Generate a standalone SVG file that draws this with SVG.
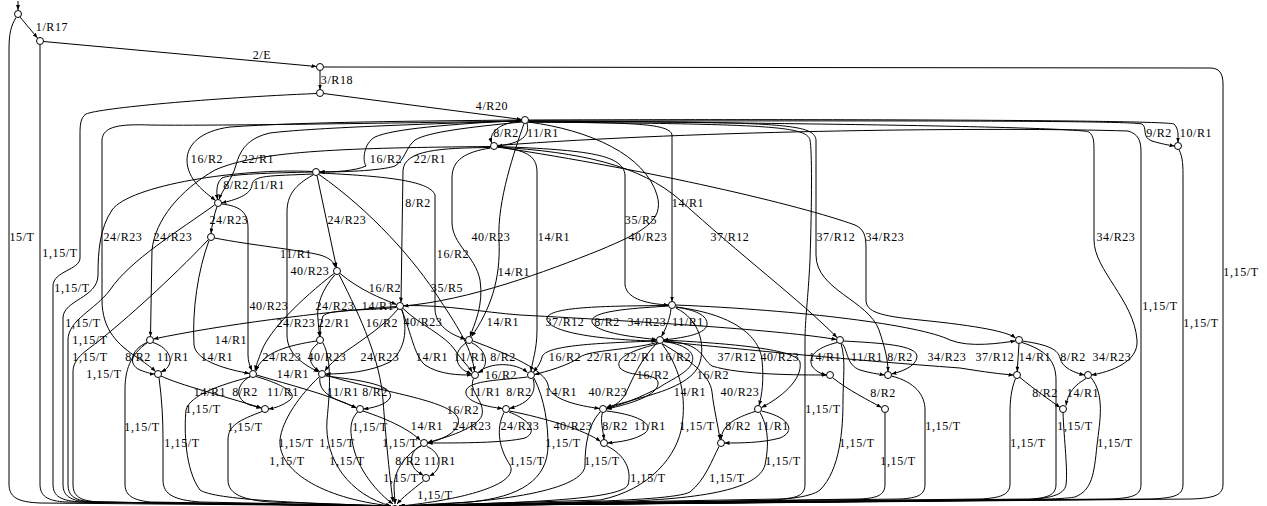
<svg xmlns="http://www.w3.org/2000/svg" width="1267" height="506" viewBox="0 0 1267 506">
<style>
.e{fill:none;stroke:#000;stroke-width:1;marker-end:url(#ah)}
.n{fill:#fff;stroke:#000;stroke-width:1}
text{font-family:"Liberation Serif","Times New Roman",serif;font-size:12px;letter-spacing:0.6px;text-anchor:middle;fill:#000}
</style>
<defs>
<marker id="ah" markerWidth="5" markerHeight="4" refX="5" refY="2" orient="auto" markerUnits="userSpaceOnUse"><path d="M0,0 L5,2 L0,4 z" fill="#000"/></marker>
</defs>
<rect width="1267" height="506" fill="#fff"/>
<g id="connectors">
<path class="e" d="M18,1 L18,10"/>
<path class="e" d="M20,17 L37.5,38"/>
<path class="e" d="M16,17.5 C11,26 9,33 9,50 L9,484 C9,497 17,502 40,503 L391,506"/>
<path class="e" d="M43.5,41.5 L316.5,66.5"/>
<path class="e" d="M40,44.5 L40,484 C40,496 47,501 66,502 L391,506"/>
<path class="e" d="M320,70.5 L320,89.5"/>
<path class="e" d="M323.5,67 L1210,68 C1219,68 1223,73 1223,84 L1223,484 C1223,495 1215,498 1192,499 L399,506"/>
<path class="e" d="M323.5,93.5 L521.5,119.5"/>
<path class="e" d="M316.5,93.5 C210,98 100,108 86,114 C80,118 80,126 80,136 L80,258 C80,270 53,271 53,286 L53,484 C53,496 60,501 82,502 L391,506"/>
<path class="e" d="M521.5,121 C497,123 489,134 491.5,143"/>
<path class="e" d="M527,123 C530,136 522,143 497.5,146"/>
<path class="e" d="M528.5,121 C820,121 1128,120 1142,124 C1148,128 1141,137 1152,141 C1162,144 1168,145 1174.5,146"/>
<path class="e" d="M528.5,120 C820,119 1166,120 1174,124 C1179,129 1178,136 1178,142.5"/>
<path class="e" d="M1179,149.5 C1183,158 1183,166 1183,178 L1183,484 C1183,495 1176,498 1150,499 L399,506"/>
<path class="e" d="M521.5,120.5 C450,124 392,129 375,137 C364,143 362,160 366,166 C355,171 335,172 319.5,172"/>
<path class="e" d="M522,122 C470,127 428,132 415,140 C406,147 405,160 395,166 C380,171 340,172 319.5,172"/>
<path class="e" d="M521.5,120 C420,121 300,122 230,127 C200,131 187,145 187,160 C187,180 205,192 215.5,200.5"/>
<path class="e" d="M521.5,121 C420,124 310,128 270,133 C248,138 240,150 236,165 C232,180 222,190 219,199.5"/>
<path class="e" d="M528.5,122 C620,123 670,122 672,135 L672,301.5"/>
<path class="e" d="M528.5,121 C780,122 814,123 816,140 L816,255 C816,290 868,300 879,330 C885,348 888,360 888,371.5"/>
<path class="e" d="M528.5,122 C770,124 806,126 810,140 C812,150 812,200 810,260 C808,300 805,320 805,340 L805,484 C805,495 798,498 780,499 L399,506"/>
<path class="e" d="M528.5,121 C900,124 1080,128 1089,132 C1094,136 1094,142 1094,152 L1094,240 C1094,270 1134,300 1137,340 C1139,362 1110,372 1091.5,375"/>
<path class="e" d="M528,122 C590,130 645,155 657,195 C665,222 640,233 600,250 C545,272 470,300 403.5,306"/>
<path class="e" d="M521.5,121 C400,123 200,126 150,125 C120,124 103,126 102,140 L102,300 C102,330 118,345 138,358 C148,365 153,369 155.5,371.5"/>
<path class="e" d="M524,123.5 C515,150 497,200 499,240 C501,280 490,310 471.5,336.5"/>
<path class="e" d="M490.5,146.5 C350,148 260,150 215,170 C180,190 155,220 152,250 L150.5,336.5"/>
<path class="e" d="M490.5,147.5 C440,148 405,150 403,170 L401,302.5"/>
<path class="e" d="M490.5,148 C465,152 452,160 452,178 L452,222 C452,245 475,255 480,280 C484,305 474,325 470,336.5"/>
<path class="e" d="M497.5,147 C525,150 537,155 537,172 L537,330 C537,350 532,362 531,371.5"/>
<path class="e" d="M497.5,146.5 C590,150 623,155 625,175 L625,285 C627,300 650,304 668.5,305"/>
<path class="e" d="M497.5,147 C580,152 640,165 680,200 C740,255 800,300 837,337.5"/>
<path class="e" d="M497.5,147 C650,170 800,205 855,225 C864,229 866,236 866,248 L866,300 C866,312 880,316 920,320 C980,326 1008,332 1015.5,338"/>
<path class="e" d="M497.5,145.5 C700,130 1000,127 1128,131 C1138,134 1141,140 1141,152 L1141,484 C1141,495 1134,498 1110,499 L399,506"/>
<path class="e" d="M312.5,172 C270,173 230,174 222,178 C217,182 216,190 217.5,199.5"/>
<path class="e" d="M313,174 C270,176 253,175 252,185 C251,195 235,200 221.5,203"/>
<path class="e" d="M317,175.5 L336.5,267.5"/>
<path class="e" d="M319,174.5 C370,210 415,260 440,300 C460,330 472,350 474.5,371.5"/>
<path class="e" d="M313,175 C295,185 287,195 287,212 L287,335 C287,355 305,365 318.5,372"/>
<path class="e" d="M319.5,173 C380,176 430,180 435,195 L435,310 C436,325 450,335 465.5,339"/>
<path class="e" d="M312.5,171.5 C240,168 130,185 112,210 C100,228 98,250 98,275 C98,298 63,300 63,318 L63,484 C63,496 70,501 90,502 L391,506"/>
<path class="e" d="M217,206.5 C214,215 212,225 211,233.5"/>
<path class="e" d="M221.5,204 C240,206 248,212 248,228 L248,355 C248,362 250,366 252,370.5"/>
<path class="e" d="M214.5,205 C180,230 130,260 110,290 C95,310 68,320 68,340 L68,484 C68,496 74,501 95,502 L391,506"/>
<path class="e" d="M214.5,238 C250,245 300,250 320,255 C330,258 334,262 335.5,267.5"/>
<path class="e" d="M209,240.5 C198,270 192,310 194,345 C196,362 230,370 249.5,373.5"/>
<path class="e" d="M208,240 C170,280 125,320 100,340 C85,352 73,358 73,372 L73,484 C73,496 79,501 100,502 L391,506"/>
<path class="e" d="M340,273.5 C360,290 380,298 396.5,304.5"/>
<path class="e" d="M335,274.5 C322,290 316,305 318,320 L319.5,336.5"/>
<path class="e" d="M334,273.5 C300,300 270,330 262,350 C258,360 256,366 255,370.5"/>
<path class="e" d="M339,274.5 C362,320 380,360 383,400 C386,440 390,480 393,502"/>
<path class="e" d="M396.5,306.5 C320,312 220,325 153.5,339"/>
<path class="e" d="M396.5,307.5 C360,311 330,309 323,316 C320,325 320,331 320,336.5"/>
<path class="e" d="M398,309 C385,325 365,338 345,352 C335,360 328,366 325,371"/>
<path class="e" d="M403,308.5 C420,325 445,335 455,350 C463,362 470,368 472,372"/>
<path class="e" d="M402,309.5 C408,330 405,350 390,362 C370,372 345,374 325.5,374"/>
<path class="e" d="M401.5,309.5 C412,335 414,355 425,365 C440,375 460,375 471.5,375"/>
<path class="e" d="M403.5,305.5 C450,305 480,312 520,315 C650,322 780,330 836.5,339.5"/>
<path class="e" d="M668.5,306 C640,308 595,310 592,320 C590,330 620,336 656.5,339.5"/>
<path class="e" d="M671,308.5 C670,320 665,330 661.5,336.5"/>
<path class="e" d="M675.5,307 C695,310 708,315 707,325 C705,335 680,338 663.5,340"/>
<path class="e" d="M668.5,305.5 C600,306 550,307 547,318 C545,332 600,340 656.5,341"/>
<path class="e" d="M676,307 C740,315 760,340 762,360 C764,380 762,395 759,405.5"/>
<path class="e" d="M675.5,305 C800,310 920,325 950,340 C970,348 1000,343 1015.5,341"/>
<path class="e" d="M676,308 C700,320 705,345 700,362 C695,380 670,390 640,398 C620,404 610,406 606.5,407.5"/>
<path class="e" d="M656.5,341 C600,343 545,345 542,357 C540,365 535,370 533.5,372"/>
<path class="e" d="M657,342.5 C630,350 590,350 580,357 C570,365 545,372 534.5,374.5"/>
<path class="e" d="M659,343.5 C625,352 615,360 620,368 C630,378 655,372 658,382 C660,395 630,404 606.5,409"/>
<path class="e" d="M663.5,341.5 C690,345 695,355 692,362 C690,372 670,380 660,387 C640,398 620,405 606.5,408.5"/>
<path class="e" d="M663.5,340 C720,343 795,348 800,362 C803,380 780,398 761.5,407.5"/>
<path class="e" d="M663.5,341 C705,343 700,358 712,366 C740,375 800,375 826.5,375"/>
<path class="e" d="M662,343.5 C690,360 710,375 712,392 C714,410 718,425 720,439.5"/>
<path class="e" d="M657,343 C640,360 632,380 625,395 C620,403 612,407 606.5,408.5"/>
<path class="e" d="M662,344 C682,370 686,400 682,425 C678,455 650,490 600,500 L400,506"/>
<path class="e" d="M663.5,341.5 C750,350 850,360 960,368 C985,372 1000,374 1013.5,375"/>
<path class="e" d="M837,342.5 C815,348 808,357 812,366 C816,372 822,374 826.5,375"/>
<path class="e" d="M842,343.5 C848,350 846,365 860,370 C870,373 878,374 884.5,375"/>
<path class="e" d="M843.5,341 C880,343 918,345 917,357 C916,367 900,372 891.5,374"/>
<path class="e" d="M841,343.5 C846,360 843,380 843,400 C843,430 840,470 820,490 C810,498 780,500 750,501 L400,506"/>
<path class="e" d="M833,378 C848,390 868,400 881.5,407.5"/>
<path class="e" d="M891.5,376 C915,382 925,395 925,410 L925,484 C925,495 918,498 900,499 L399,506"/>
<path class="e" d="M885,412.5 L885,484 C885,495 878,498 860,499 L399,506"/>
<path class="e" d="M1019,343.5 L1017.2,371.5"/>
<path class="e" d="M1022.5,341 C1050,345 1058,350 1060,358 C1062,368 1075,373 1084.5,375"/>
<path class="e" d="M1022,342.5 C1045,350 1056,360 1056,380 L1056,484 C1056,495 1048,498 1030,499 L399,506"/>
<path class="e" d="M1020,377.5 C1035,390 1050,400 1060,407.5"/>
<path class="e" d="M1015.5,378.5 C1011,390 1010,400 1010,415 L1010,484 C1010,495 1000,498 980,499 L399,506"/>
<path class="e" d="M1086,378.5 C1075,385 1068,392 1066,405.5"/>
<path class="e" d="M1091,377.5 C1105,395 1100,420 1097,445 C1094,475 1092,490 1075,497 C1060,500 1000,500 900,501 L399,506"/>
<path class="e" d="M1063,412.5 C1064,440 1068,470 1066,485 C1064,495 1050,499 1020,500 L399,506"/>
<path class="e" d="M147,342.5 C130,350 128,365 140,370 C148,373 152,374 154.5,374"/>
<path class="e" d="M153,342.5 C170,348 175,362 165,370 L161,372"/>
<path class="e" d="M147.5,342.5 C130,355 125,370 125,390 L125,484 C125,495 132,500 150,502 L391,506"/>
<path class="e" d="M161,376 C180,385 220,395 261.5,408"/>
<path class="e" d="M159,377.5 C162,400 163,420 163,440 L163,480 C163,495 175,500 200,502 L391,506"/>
<path class="e" d="M250,376.5 C235,385 235,400 250,405 L261.5,408"/>
<path class="e" d="M256,376.5 C275,382 300,392 290,400 C282,406 275,408 268.5,409"/>
<path class="e" d="M256.5,375 C290,385 330,395 356.5,408"/>
<path class="e" d="M250,377 C220,385 190,395 186,410 C184,430 185,470 200,490 C215,500 300,503 391,506"/>
<path class="e" d="M316.5,341 C290,345 262,352 256,371"/>
<path class="e" d="M318,343.5 C306,352 308,364 319.5,371.5"/>
<path class="e" d="M323,343 C332,360 330,390 327,420 C324,460 350,495 391,506"/>
<path class="e" d="M320,377.5 C318,390 330,398 345,403 L356.5,408"/>
<path class="e" d="M325.5,376 C360,380 395,385 390,398 C386,405 372,408 363.5,409"/>
<path class="e" d="M325.5,375 C380,392 450,400 458,418 C462,432 440,440 427.5,443"/>
<path class="e" d="M319,377 C300,395 282,420 280,440 C278,470 320,498 391,506"/>
<path class="e" d="M262,411.5 C240,420 228,425 228,440 L228,480 C228,495 245,500 270,502 L391,506"/>
<path class="e" d="M363,411 C390,420 410,430 420.5,440.5"/>
<path class="e" d="M357.5,412 C350,420 350,430 352,440 C356,470 380,495 393,504"/>
<path class="e" d="M466,343 C455,350 453,363 465,371 L471.5,374"/>
<path class="e" d="M472,343 C487,350 490,366 478.5,373"/>
<path class="e" d="M473,341 C510,355 545,370 548,385 C550,400 580,406 599.5,408.5"/>
<path class="e" d="M478,372.5 C490,362 515,362 527.5,372.5"/>
<path class="e" d="M473.5,378.5 C468,392 485,400 482,415 C478,428 445,438 427.5,442.5"/>
<path class="e" d="M527.5,377 C505,380 468,380 466,391 C464,402 488,407 502.5,408.5"/>
<path class="e" d="M533,378.5 C537,392 530,403 509.5,408.5"/>
<path class="e" d="M534,378 C545,400 548,425 548,445 C548,480 520,497 470,502 L400,506"/>
<path class="e" d="M509.5,411 C545,418 585,430 600.5,441.5"/>
<path class="e" d="M509,412 C530,420 538,432 525,438 C505,443 460,443 427.5,443"/>
<path class="e" d="M504,412.5 C495,430 500,450 510,465 C520,485 460,500 400,506"/>
<path class="e" d="M602.5,412.5 C600,420 603,430 604,439.5"/>
<path class="e" d="M606.5,411 C640,415 655,425 645,433 C635,440 620,442 607.5,443"/>
<path class="e" d="M600,412 C588,425 585,445 585,465 C585,490 500,503 400,506"/>
<path class="e" d="M755,411.5 C735,418 722,425 721,439.5"/>
<path class="e" d="M761.5,411 C792,418 795,432 780,438 C762,443 740,443 724.5,443"/>
<path class="e" d="M760,412.5 C770,430 768,450 765,465 C758,490 700,500 600,502 L400,506"/>
<path class="e" d="M421,446 C410,450 408,465 418,472 L423.5,475.5"/>
<path class="e" d="M427,446.5 C440,452 445,468 429.5,476"/>
<path class="e" d="M421.5,445.5 C405,455 395,470 394,485 C394,493 395,498 395,504"/>
<path class="e" d="M607,446 C625,455 632,470 628,485 C620,500 520,503 400,506"/>
<path class="e" d="M719,446.5 C712,460 705,480 690,492 C670,503 500,503 400,506"/>
<path class="e" d="M423.5,481 C412,490 402,498 397,504"/>
</g>
<g id="edge-labels">
<text x="52" y="31">1/R17</text>
<text x="262" y="59">2/E</text>
<text x="337" y="84">3/R18</text>
<text x="492" y="110">4/R20</text>
<text x="506" y="137">8/R2</text>
<text x="543" y="137">11/R1</text>
<text x="1159" y="137">9/R2</text>
<text x="1196" y="137">10/R1</text>
<text x="207" y="163">16/R2</text>
<text x="258" y="163">22/R1</text>
<text x="386" y="163">16/R2</text>
<text x="430" y="163">22/R1</text>
<text x="236" y="189">8/R2</text>
<text x="269" y="189">11/R1</text>
<text x="418" y="207">8/R2</text>
<text x="688" y="207">14/R1</text>
<text x="229" y="224">24/R23</text>
<text x="347" y="224">24/R23</text>
<text x="641" y="224">35/R5</text>
<text x="22" y="241">15/T</text>
<text x="123" y="241">24/R23</text>
<text x="173" y="241">24/R23</text>
<text x="491" y="241">40/R23</text>
<text x="554" y="241">14/R1</text>
<text x="648" y="241">40/R23</text>
<text x="730" y="241">37/R12</text>
<text x="836" y="241">37/R12</text>
<text x="885" y="241">34/R23</text>
<text x="1116" y="241">34/R23</text>
<text x="60" y="257">1,15/T</text>
<text x="296" y="258">11/R1</text>
<text x="453" y="258">16/R2</text>
<text x="310" y="275">40/R23</text>
<text x="514" y="276">14/R1</text>
<text x="1241" y="276">1,15/T</text>
<text x="72" y="292">1,15/T</text>
<text x="385" y="292">16/R2</text>
<text x="447" y="292">35/R5</text>
<text x="1160" y="310">1,15/T</text>
<text x="269" y="310">40/R23</text>
<text x="335" y="310">24/R23</text>
<text x="378" y="310">14/R1</text>
<text x="83" y="327">1,15/T</text>
<text x="296" y="327">24/R23</text>
<text x="334" y="327">22/R1</text>
<text x="382" y="327">16/R2</text>
<text x="423" y="326">40/R23</text>
<text x="503" y="326">14/R1</text>
<text x="565" y="326">37/R12</text>
<text x="607" y="326">8/R2</text>
<text x="647" y="326">34/R23</text>
<text x="688" y="326">11/R1</text>
<text x="1201" y="327">1,15/T</text>
<text x="231" y="344">14/R1</text>
<text x="90" y="344">1,15/T</text>
<text x="138" y="361">8/R2</text>
<text x="173" y="361">11/R1</text>
<text x="217" y="361">14/R1</text>
<text x="282" y="361">24/R23</text>
<text x="327" y="361">40/R23</text>
<text x="380" y="361">24/R23</text>
<text x="432" y="361">14/R1</text>
<text x="470" y="361">11/R1</text>
<text x="503" y="361">8/R2</text>
<text x="565" y="361">16/R2</text>
<text x="603" y="361">22/R1</text>
<text x="640" y="361">22/R1</text>
<text x="675" y="361">16/R2</text>
<text x="737" y="361">37/R12</text>
<text x="780" y="361">40/R23</text>
<text x="825" y="361">14/R1</text>
<text x="867" y="361">11/R1</text>
<text x="900" y="361">8/R2</text>
<text x="947" y="361">34/R23</text>
<text x="995" y="361">37/R12</text>
<text x="1035" y="361">14/R1</text>
<text x="1073" y="361">8/R2</text>
<text x="1112" y="361">34/R23</text>
<text x="90" y="361">1,15/T</text>
<text x="293" y="378">14/R1</text>
<text x="104" y="378">1,15/T</text>
<text x="501" y="379">16/R2</text>
<text x="653" y="379">16/R2</text>
<text x="713" y="379">16/R2</text>
<text x="210" y="396">14/R1</text>
<text x="245" y="396">8/R2</text>
<text x="283" y="396">11/R1</text>
<text x="343" y="396">11/R1</text>
<text x="375" y="396">8/R2</text>
<text x="485" y="396">11/R1</text>
<text x="519" y="396">8/R2</text>
<text x="561" y="396">14/R1</text>
<text x="608" y="396">40/R23</text>
<text x="690" y="396">14/R1</text>
<text x="740" y="396">40/R23</text>
<text x="883" y="397">8/R2</text>
<text x="1045" y="397">8/R2</text>
<text x="1083" y="397">14/R1</text>
<text x="203" y="413">1,15/T</text>
<text x="463" y="414">16/R2</text>
<text x="823" y="413">1,15/T</text>
<text x="427" y="430">14/R1</text>
<text x="472" y="430">24/R23</text>
<text x="520" y="430">24/R23</text>
<text x="573" y="430">40/R23</text>
<text x="615" y="430">8/R2</text>
<text x="650" y="430">11/R1</text>
<text x="697" y="430">1,15/T</text>
<text x="738" y="430">8/R2</text>
<text x="773" y="430">11/R1</text>
<text x="142" y="431">1,15/T</text>
<text x="245" y="431">1,15/T</text>
<text x="370" y="431">1,15/T</text>
<text x="943" y="430">1,15/T</text>
<text x="1075" y="430">1,15/T</text>
<text x="182" y="447">1,15/T</text>
<text x="296" y="447">1,15/T</text>
<text x="337" y="447">1,15/T</text>
<text x="400" y="447">1,15/T</text>
<text x="563" y="447">1,15/T</text>
<text x="857" y="447">1,15/T</text>
<text x="1028" y="447">1,15/T</text>
<text x="1115" y="447">1,15/T</text>
<text x="287" y="465">1,15/T</text>
<text x="347" y="465">1,15/T</text>
<text x="408" y="465">8/R2</text>
<text x="440" y="465">11/R1</text>
<text x="527" y="465">1,15/T</text>
<text x="602" y="465">1,15/T</text>
<text x="783" y="465">1,15/T</text>
<text x="898" y="465">1,15/T</text>
<text x="401" y="482">1,15/T</text>
<text x="648" y="482">1,15/T</text>
<text x="727" y="482">1,15/T</text>
<text x="435" y="499">1,15/T</text>
</g>
<g id="n-A"><circle class="n" cx="18" cy="14" r="3.5"/></g>
<g id="n-B"><circle class="n" cx="40" cy="41" r="3.5"/></g>
<g id="n-C"><circle class="n" cx="320" cy="67" r="3.5"/></g>
<g id="n-D"><circle class="n" cx="320" cy="93" r="3.5"/></g>
<g id="n-E"><circle class="n" cx="525" cy="120" r="3.5"/></g>
<g id="n-F"><circle class="n" cx="494" cy="146" r="3.5"/></g>
<g id="n-G"><circle class="n" cx="1178" cy="146" r="3.5"/></g>
<g id="n-H"><circle class="n" cx="316" cy="172" r="3.5"/></g>
<g id="n-I"><circle class="n" cx="218" cy="203" r="3.5"/></g>
<g id="n-J"><circle class="n" cx="211" cy="237" r="3.5"/></g>
<g id="n-K"><circle class="n" cx="337" cy="271" r="3.5"/></g>
<g id="n-L"><circle class="n" cx="400" cy="306" r="3.5"/></g>
<g id="n-M"><circle class="n" cx="672" cy="305" r="3.5"/></g>
<g id="n-N"><circle class="n" cx="150" cy="340" r="3.5"/></g>
<g id="n-O"><circle class="n" cx="320" cy="340" r="3.5"/></g>
<g id="n-P"><circle class="n" cx="469" cy="340" r="3.5"/></g>
<g id="n-Q"><circle class="n" cx="660" cy="340" r="3.5"/></g>
<g id="n-R"><circle class="n" cx="840" cy="340" r="3.5"/></g>
<g id="n-S"><circle class="n" cx="1019" cy="340" r="3.5"/></g>
<g id="n-T"><circle class="n" cx="158" cy="374" r="3.5"/></g>
<g id="n-U"><circle class="n" cx="253" cy="374" r="3.5"/></g>
<g id="n-V"><circle class="n" cx="322" cy="374" r="3.5"/></g>
<g id="n-W"><circle class="n" cx="475" cy="375" r="3.5"/></g>
<g id="n-X"><circle class="n" cx="531" cy="375" r="3.5"/></g>
<g id="n-Y"><circle class="n" cx="830" cy="375" r="3.5"/></g>
<g id="n-Z"><circle class="n" cx="888" cy="375" r="3.5"/></g>
<g id="n-AA"><circle class="n" cx="1017" cy="375" r="3.5"/></g>
<g id="n-AB"><circle class="n" cx="1088" cy="375" r="3.5"/></g>
<g id="n-AC"><circle class="n" cx="265" cy="409" r="3.5"/></g>
<g id="n-AD"><circle class="n" cx="360" cy="409" r="3.5"/></g>
<g id="n-AE"><circle class="n" cx="506" cy="409" r="3.5"/></g>
<g id="n-AF"><circle class="n" cx="603" cy="409" r="3.5"/></g>
<g id="n-AG"><circle class="n" cx="758" cy="409" r="3.5"/></g>
<g id="n-AH"><circle class="n" cx="885" cy="409" r="3.5"/></g>
<g id="n-AI"><circle class="n" cx="1063" cy="409" r="3.5"/></g>
<g id="n-AJ"><circle class="n" cx="424" cy="443" r="3.5"/></g>
<g id="n-AK"><circle class="n" cx="604" cy="443" r="3.5"/></g>
<g id="n-AL"><circle class="n" cx="721" cy="443" r="3.5"/></g>
<g id="n-AM"><circle class="n" cx="426" cy="478" r="3.5"/></g>
<g id="n-SINK"><circle class="n" cx="395" cy="509" r="3.5"/></g>
</svg>
